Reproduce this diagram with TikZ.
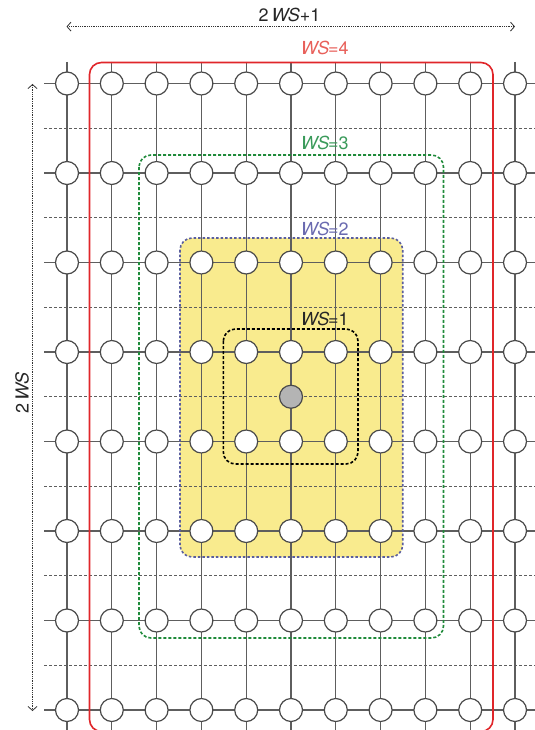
\documentclass[tikz,border=0pt]{standalone}
\usepackage{fontspec}
\setmainfont{TeX Gyre Heros}
\usetikzlibrary{arrows.meta}
\definecolor{gridgray}{HTML}{5E5E5E}
\definecolor{cellgray}{HTML}{4A4A4A}
\definecolor{wsred}{HTML}{E0262A}
\definecolor{wsredtext}{HTML}{E8605A}
\definecolor{wsgreen}{HTML}{1F8A3A}
\definecolor{wsgreentext}{HTML}{3A9A5A}
\definecolor{wsblue}{HTML}{5A5E9E}
\definecolor{wsbluetext}{HTML}{6A6AB0}
\definecolor{wsyellow}{HTML}{F9EB8E}
\definecolor{centerfill}{HTML}{B4B4B4}
\tikzset{
  gridline/.style={draw=gridgray, line width=1.2bp},
  midline/.style={draw=gridgray, line width=1.1bp, dash pattern=on 3bp off 2bp},
  cell/.style={circle, draw=cellgray, fill=white, line width=1.2bp, minimum size=23bp, inner sep=0pt},
  centercell/.style={cell, fill=centerfill},
  box4/.style={draw=wsred, line width=1.6bp, rounded corners=12bp},
  box3/.style={draw=wsgreen, line width=1.6bp, dash pattern=on 3bp off 2bp, rounded corners=12bp},
  box2/.style={draw=wsblue, line width=1.6bp, dash pattern=on 2.5bp off 2bp, rounded corners=12bp},
  box1/.style={draw=black, line width=1.6bp, dash pattern=on 3bp off 2bp, rounded corners=12bp},
  dimarrow/.style={draw=black!80, line width=0.8bp, densely dotted, {Straight Barb[length=4bp,width=9bp,line width=0.8bp]}-{Straight Barb[length=4bp,width=9bp,line width=0.8bp]}},
  wslabel/.style={anchor=base west, inner sep=0pt}
}
\newcommand{\wstext}[1]{\textit{WS}\kern-1.2bp=#1}
\begin{document}
\begin{tikzpicture}[x=1bp,y=-1bp, font=\fontsize{18}{21}\selectfont]
\useasboundingbox (0,0) rectangle (535,730);
\clip (0,0) rectangle (535,730);
% yellow window
\fill[wsyellow, rounded corners=12bp] (180,238) rectangle (402.7,557);
% grid lines
\foreach \i in {0,...,10} {
  \coordinate (vt-\i) at (67+44.8*\i, 62);
  \coordinate (vb-\i) at (67+44.8*\i, 732);
  \draw[gridline] (vt-\i) -- (vb-\i);
}
\foreach \j in {0,...,7} {
  \coordinate (hl-\j) at (44, 83.5+89.5*\j);
  \coordinate (hr-\j) at (537, 83.5+89.5*\j);
  \draw[gridline] (hl-\j) -- (hr-\j);
}
\foreach \j in {0,...,6} {
  \coordinate (ml-\j) at (44, 128.25+89.5*\j);
  \coordinate (mr-\j) at (537, 128.25+89.5*\j);
  \draw[midline] (ml-\j) -- (mr-\j);
}
% window boxes
\draw[box2] (180,238) rectangle (402.7,557);
\draw[box1] (223.3,329) rectangle (358,464);
\draw[box3] (139,155) rectangle (443.5,638);
\draw[box4] (89.5,62.5) rectangle (493,731.5);
% cells
\foreach \i in {0,...,10} {
  \foreach \j in {0,...,7} {
    \node[cell] (n-\i-\j) at (67+44.8*\i, 83.5+89.5*\j) {};
  }
}
\node[centercell] (c) at (291,396.75) {};
% labels
\node[wslabel, text=wsredtext] (l4) at (300.7,55) {\wstext{4}};
\node[wslabel, text=wsgreentext] (l3) at (300.7,149) {\wstext{3}};
\node[wslabel, text=wsbluetext] (l2) at (300.7,235) {\wstext{2}};
\node[wslabel, text=black!85] (l1) at (300.7,325.5) {\wstext{1}};
% dimension arrows
\coordinate (ax1) at (66.5,26.6);
\coordinate (ax2) at (515,26.6);
\draw[dimarrow] (ax1) -- (ax2);
\node[anchor=base, inner sep=0pt, text=black!85] (tx) at (289.5,22) {2\,\textit{WS}+1};
\coordinate (ay1) at (32.5,84);
\coordinate (ay2) at (32.5,711);
\draw[dimarrow] (ay1) -- (ay2);
\node[anchor=base, rotate=90, inner sep=0pt, text=black!85] (ty) at (28.5,393) {2\,\textit{WS}};
\end{tikzpicture}
\end{document}
